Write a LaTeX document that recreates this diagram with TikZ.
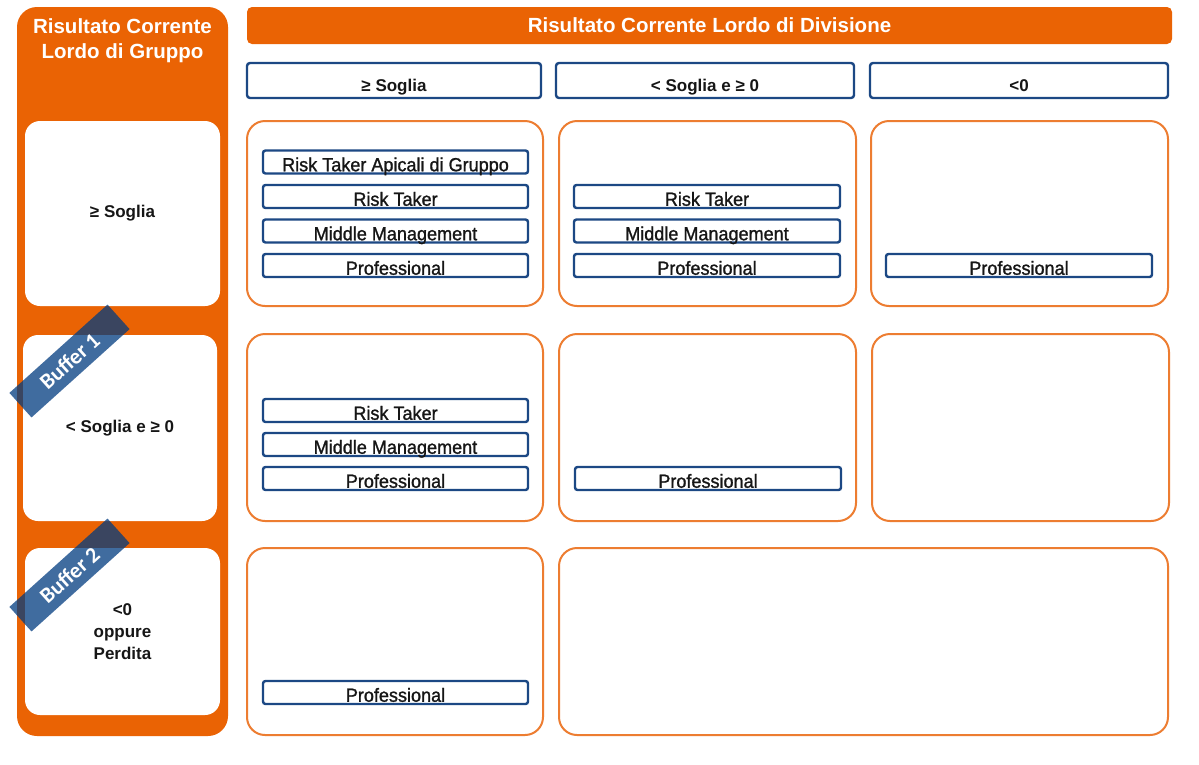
\documentclass[tikz,border=0pt]{standalone}
\usepackage{fontspec}
\setmainfont{Liberation Sans}
\newfontfamily\ribbonfont{Carlito}
\newfontfamily\rolefont[FakeBold=1.2, FakeStretch=0.95]{Liberation Sans}
\definecolor{orangeFill}{RGB}{234,99,4}
\definecolor{orangeLine}{RGB}{237,125,49}
\definecolor{navyLine}{RGB}{28,72,132}
\definecolor{ribbonBlue}{RGB}{0,59,128}
\definecolor{inkText}{RGB}{22,22,22}
\tikzset{
  column/.style={draw=none, fill=orangeFill, rounded corners=20pt, inner sep=0pt},
  groupbox/.style={draw=none, fill=white, rounded corners=15pt, inner sep=0pt,
    align=center, text=inkText, font=\bfseries\fontsize{17}{22}\selectfont},
  titlebar/.style={fill=orangeFill, rounded corners=5pt, inner sep=0pt,
    text=white, font=\bfseries\fontsize{20.5}{25}\selectfont},
  headbox/.style={draw=navyLine, line width=2.4pt, fill=white, rounded corners=3pt,
    inner sep=0pt, text=inkText, text height=22pt, text depth=0pt,
    font=\bfseries\fontsize{17}{20}\selectfont},
  cell/.style={draw=orangeLine, line width=2pt, fill=white, rounded corners=18pt, inner sep=0pt},
  rolebox/.style={draw=navyLine, line width=2.4pt, fill=white, rounded corners=2.5pt,
    inner sep=0pt, minimum height=23pt, text=inkText, text height=18.5pt, text depth=0pt,
    font=\rolefont\fontsize{19}{20}\selectfont},
  ribbon/.style={fill=ribbonBlue, fill opacity=0.75, text opacity=1, text=white,
    minimum width=132pt, minimum height=33pt, inner sep=0pt, rotate=42,
    font=\ribbonfont\bfseries\fontsize{22}{24}\selectfont},
}
\begin{document}
\begin{tikzpicture}[x=1pt, y=-1pt]
\useasboundingbox (0,0) rectangle (1199,764);
\fill[white] (0,0) rectangle (1199,764);

% group column on the left
\node[column, minimum width=211pt, minimum height=729pt] (grp) at (122.5,371.5) {};
\node[text=white, font=\bfseries\fontsize{20.5}{25}\selectfont, align=center]
  (grptitle) at (122.5,40.5) {Risultato Corrente\\Lordo di Gruppo};
\node[groupbox, minimum width=195pt, minimum height=185pt] (g1) at (122.5,213.5) {≥ Soglia};
\node[groupbox, minimum width=194pt, minimum height=186pt] (g2) at (120,428) {< Soglia e ≥ 0};
\node[groupbox, minimum width=195pt, minimum height=167pt] (g3) at (122.5,631.5) {<0\\oppure\\Perdita};

% division title and column headers
\node[titlebar, minimum width=925pt, minimum height=37pt] (div) at (709.5,25.5) {Risultato Corrente Lordo di Divisione};
\node[headbox, minimum width=294pt, minimum height=35pt] (h1) at (394,80.5) {≥ Soglia};
\node[headbox, minimum width=298pt, minimum height=35pt] (h2) at (705,80.5) {< Soglia e ≥ 0};
\node[headbox, minimum width=298pt, minimum height=35pt] (h3) at (1019,80.5) {<0};

% matrix cells
\node[cell, minimum width=296pt, minimum height=185pt] (c11) at (395,213.5) {};
\node[cell, minimum width=297pt, minimum height=185pt] (c12) at (707.5,213.5) {};
\node[cell, minimum width=297pt, minimum height=185pt] (c13) at (1019.5,213.5) {};
\node[cell, minimum width=296pt, minimum height=187pt] (c21) at (395,427.5) {};
\node[cell, minimum width=297pt, minimum height=187pt] (c22) at (707.5,427.5) {};
\node[cell, minimum width=297pt, minimum height=187pt] (c23) at (1020.5,427.5) {};
\node[cell, minimum width=296pt, minimum height=187pt] (c31) at (395,641.5) {};
\node[cell, minimum width=609pt, minimum height=187pt] (c32) at (863.5,641.5) {};

% roles per cell
\node[rolebox, minimum width=265pt] (r11a) at (395.5,162) {Risk Taker Apicali di Gruppo};
\node[rolebox, minimum width=265pt] (r11b) at (395.5,196.5) {Risk Taker};
\node[rolebox, minimum width=265pt] (r11c) at (395.5,231) {Middle Management};
\node[rolebox, minimum width=265pt] (r11d) at (395.5,265.5) {Professional};

\node[rolebox, minimum width=266pt] (r12b) at (707,196.5) {Risk Taker};
\node[rolebox, minimum width=266pt] (r12c) at (707,231) {Middle Management};
\node[rolebox, minimum width=266pt] (r12d) at (707,265.5) {Professional};

\node[rolebox, minimum width=266pt] (r13d) at (1019,265.5) {Professional};

\node[rolebox, minimum width=265pt] (r21b) at (395.5,410.5) {Risk Taker};
\node[rolebox, minimum width=265pt] (r21c) at (395.5,444.5) {Middle Management};
\node[rolebox, minimum width=265pt] (r21d) at (395.5,478.5) {Professional};

\node[rolebox, minimum width=266pt] (r22d) at (708,478.5) {Professional};

\node[rolebox, minimum width=265pt] (r31d) at (395.5,692.5) {Professional};

% buffer ribbons
\node[ribbon] (buf1) at (69.5,361) {Buffer 1};
\node[ribbon] (buf2) at (69.5,575) {Buffer 2};
\end{tikzpicture}
\end{document}
